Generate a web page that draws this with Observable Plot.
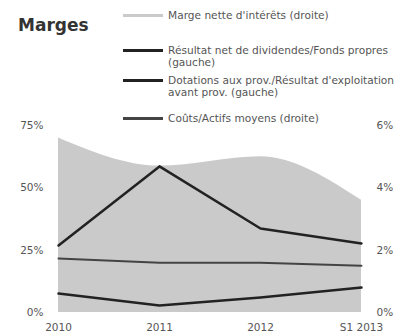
<!DOCTYPE html>
<html><head><meta charset="utf-8">
<script src="https://cdn.jsdelivr.net/npm/d3@7"></script>
<script src="https://cdn.jsdelivr.net/npm/@observablehq/plot@0.6"></script>
<style>
body{margin:0;background:#fff;}
#wrap{position:relative;width:407px;height:335px;overflow:hidden;font-family:"DejaVu Sans",sans-serif;}
#wrap svg{position:absolute;left:0;top:0;}
.t{position:absolute;font-size:10.6px;line-height:12.5px;color:#555;white-space:nowrap;}
.sw{position:absolute;height:3px;width:40px;}
#title{position:absolute;left:18px;top:15px;font-size:17px;font-weight:bold;color:#333;}
</style></head><body>
<div id="wrap"></div>
<script>
const periods = ["2010","2011","2012","S1 2013"];
const margeNette = [5.6, 4.7, 5.0, 3.6];          // % droite
const resultatFP = [26.9, 58.6, 33.7, 27.7];      // % gauche
const dotations = [7.6, 2.8, 6.0, 10.0];          // % gauche
const coutsActifs = [1.73, 1.6, 1.6, 1.5];        // % droite
const leftTicks = [0, 25, 50, 75];
const rightTickLabels = ["0%", "2%", "4%", "6%"];
const ratio = 12.5;

const area = periods.map((p,i)=>({p, v: margeNette[i]*ratio}));
const l1 = periods.map((p,i)=>({p, v: resultatFP[i]}));
const l2 = periods.map((p,i)=>({p, v: dotations[i]}));
const l3 = periods.map((p,i)=>({p, v: coutsActifs[i]*ratio}));

const chart = Plot.plot({
  width: 407, height: 335,
  marginLeft: 57, marginRight: 45, marginTop: 125, marginBottom: 23,
  style: {fontFamily: '"DejaVu Sans", sans-serif', fontSize: "10.5px", color: "#555", background: "transparent"},
  x: {type: "point", domain: periods, padding: 0},
  y: {domain: [0, 75]},
  marks: [
    Plot.areaY(area, {x: "p", y: "v", fill: "#cacaca", curve: "monotone-x"}),
    Plot.lineY(l3, {x: "p", y: "v", stroke: "#444", strokeWidth: 2}),
    Plot.lineY(l2, {x: "p", y: "v", stroke: "#222", strokeWidth: 2.5}),
    Plot.lineY(l1, {x: "p", y: "v", stroke: "#222", strokeWidth: 2.5}),
    Plot.axisY(leftTicks, {anchor: "left", tickSize: 0, tickPadding: 14, tickFormat: d => d + "%", label: null, fill: "#555"}),
    Plot.axisY(leftTicks, {anchor: "right", tickSize: 0, tickPadding: 14, tickFormat: (d,i) => rightTickLabels[i], label: null, fill: "#555"}),
    Plot.axisX(periods, {tickSize: 0, tickPadding: 11, label: null, fill: "#555"})
  ]
});
const wrap = document.getElementById("wrap");
wrap.appendChild(chart);

const title = document.createElement("div");
title.id = "title"; title.textContent = "Marges";
wrap.appendChild(title);

const legend = [
  {color: "#cacaca", y: 15, lines: ["Marge nette d'intérêts (droite)"]},
  {color: "#222", y: 50, lines: ["Résultat net de dividendes/Fonds propres", "(gauche)"]},
  {color: "#222", y: 80, lines: ["Dotations aux prov./Résultat d'exploitation", "avant prov. (gauche)"]},
  {color: "#444", y: 118, lines: ["Coûts/Actifs moyens (droite)"]}
];
legend.forEach(it => {
  const sw = document.createElement("div");
  sw.className = "sw";
  sw.style.left = "123px"; sw.style.top = (it.y - 1.5) + "px"; sw.style.background = it.color;
  wrap.appendChild(sw);
  it.lines.forEach((line, k) => {
    const t = document.createElement("div");
    t.className = "t";
    t.style.left = "168px"; t.style.top = (it.y - 6.25 + k * 12.5) + "px";
    t.textContent = line;
    wrap.appendChild(t);
  });
});
</script>
</body></html>
